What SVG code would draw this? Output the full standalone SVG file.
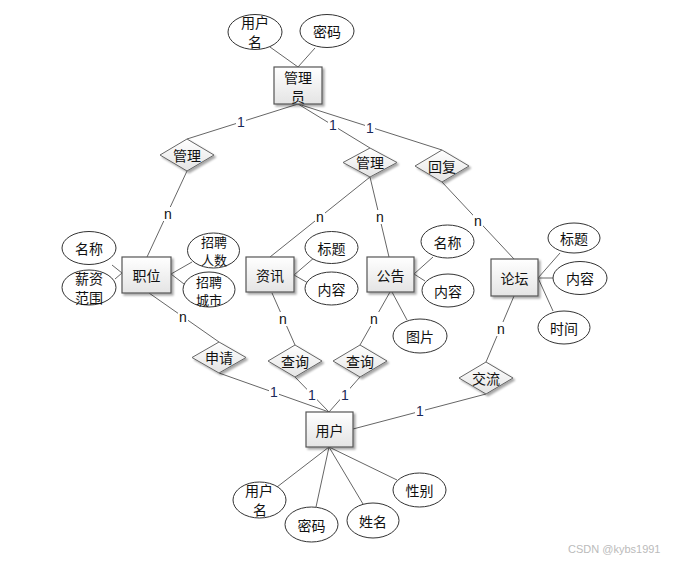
<svg xmlns="http://www.w3.org/2000/svg" width="678" height="563" viewBox="0 0 678 563">
<defs>
<linearGradient id="g" x1="0" y1="0" x2="0" y2="1"><stop offset="0" stop-color="#ffffff"/><stop offset="1" stop-color="#e4e4e4"/></linearGradient>
<filter id="sh" x="-20%" y="-20%" width="150%" height="150%"><feGaussianBlur in="SourceAlpha" stdDeviation="1.2"/><feOffset dx="2" dy="2"/><feComponentTransfer><feFuncA type="linear" slope="0.35"/></feComponentTransfer><feMerge><feMergeNode/><feMergeNode in="SourceGraphic"/></feMerge></filter>
</defs>
<style>
.e{fill:url(#g);stroke:#555;stroke-width:1.2;filter:url(#sh)}
.d{fill:url(#g);stroke:#666;stroke-width:1;filter:url(#sh)}
.a{fill:#fff;stroke:#333;stroke-width:1}
.l{stroke:#666;stroke-width:1;fill:none}
text{font-family:"Noto Sans CJK SC","Microsoft YaHei",sans-serif;font-size:14px;fill:#111;text-anchor:middle;dominant-baseline:central}
.sm{font-size:13px}
.one{font-family:"Liberation Sans",Arial,sans-serif;font-size:14px;fill:#1a2a5a}
.n{font-family:"Liberation Sans",Arial,sans-serif;font-size:14px;fill:#111}
.wm{font-family:"Liberation Sans",Arial,sans-serif;font-size:11px;fill:#bbb;text-anchor:start}
</style>
<rect width="678" height="563" fill="#fff"/>
<g id="connectors">
<line class="l" x1="270" y1="47" x2="298" y2="67"/>
<line class="l" x1="315" y1="48" x2="298" y2="67"/>
<line class="l" x1="298" y1="104" x2="187" y2="139"/>
<line class="l" x1="298" y1="104" x2="370" y2="148"/>
<line class="l" x1="298" y1="104" x2="442" y2="150"/>
<line class="l" x1="187" y1="171" x2="147" y2="257"/>
<line class="l" x1="370" y1="177" x2="270" y2="257"/>
<line class="l" x1="370" y1="177" x2="389" y2="257"/>
<line class="l" x1="442" y1="182" x2="514" y2="259"/>
<line class="l" x1="112" y1="265" x2="122" y2="273"/>
<line class="l" x1="115" y1="279" x2="122" y2="273"/>
<line class="l" x1="192" y1="262" x2="171" y2="274"/>
<line class="l" x1="184" y1="284" x2="171" y2="274"/>
<line class="l" x1="315" y1="257" x2="294" y2="275"/>
<line class="l" x1="308" y1="283" x2="294" y2="275"/>
<line class="l" x1="433" y1="257" x2="414" y2="274"/>
<line class="l" x1="425" y1="281" x2="414" y2="274"/>
<line class="l" x1="560" y1="253" x2="538" y2="278"/>
<line class="l" x1="553" y1="278" x2="538" y2="278"/>
<line class="l" x1="553" y1="311" x2="538" y2="278"/>
<line class="l" x1="149" y1="293" x2="219" y2="342"/>
<line class="l" x1="272" y1="293" x2="295" y2="345"/>
<line class="l" x1="390" y1="292" x2="360" y2="345"/>
<line class="l" x1="392" y1="292" x2="407" y2="320"/>
<line class="l" x1="514" y1="296" x2="486" y2="362"/>
<line class="l" x1="219" y1="373" x2="329" y2="412"/>
<line class="l" x1="295" y1="377" x2="329" y2="412"/>
<line class="l" x1="360" y1="377" x2="329" y2="412"/>
<line class="l" x1="486" y1="394" x2="353" y2="429"/>
<line class="l" x1="329" y1="447" x2="277" y2="487"/>
<line class="l" x1="329" y1="447" x2="316" y2="507"/>
<line class="l" x1="329" y1="447" x2="363" y2="504"/>
<line class="l" x1="329" y1="447" x2="397" y2="480"/>
</g>
<g id="labels">
<rect x="236" y="115" width="10" height="14" fill="#fff"/><text class="one" x="241" y="122">1</text>
<rect x="328" y="118" width="10" height="14" fill="#fff"/><text class="one" x="333" y="125">1</text>
<rect x="365" y="121" width="10" height="14" fill="#fff"/><text class="one" x="370" y="128">1</text>
<rect x="163" y="207" width="10" height="14" fill="#fff"/><text class="n" x="168" y="214">n</text>
<rect x="315" y="210" width="10" height="14" fill="#fff"/><text class="n" x="320" y="217">n</text>
<rect x="375" y="210" width="10" height="14" fill="#fff"/><text class="n" x="380" y="217">n</text>
<rect x="473" y="214" width="10" height="14" fill="#fff"/><text class="n" x="478" y="221">n</text>
<rect x="178" y="310" width="10" height="14" fill="#fff"/><text class="n" x="183" y="317">n</text>
<rect x="278" y="312" width="10" height="14" fill="#fff"/><text class="n" x="283" y="319">n</text>
<rect x="369" y="312" width="10" height="14" fill="#fff"/><text class="n" x="374" y="319">n</text>
<rect x="496" y="322" width="10" height="14" fill="#fff"/><text class="n" x="501" y="329">n</text>
<rect x="269" y="385" width="10" height="14" fill="#fff"/><text class="one" x="274" y="392">1</text>
<rect x="307" y="388" width="10" height="14" fill="#fff"/><text class="one" x="312" y="395">1</text>
<rect x="340" y="388" width="10" height="14" fill="#fff"/><text class="one" x="345" y="395">1</text>
<rect x="415" y="404" width="10" height="14" fill="#fff"/><text class="one" x="420" y="411">1</text>
</g>
<g id="admin"><rect class="e" x="274" y="67" width="48" height="37"/><text x="298" y="77">管理</text><text x="298" y="96">员</text></g>
<g id="admin-username"><ellipse class="a" cx="255" cy="32" rx="27" ry="17.5"/><text x="255" y="22">用户</text><text x="255" y="41">名</text></g>
<g id="admin-password"><ellipse class="a" cx="327" cy="31" rx="27" ry="16.5"/><text x="327" y="31">密码</text></g>
<g id="rel-manage1"><polygon class="d" points="187,139 214,155 187,171 160,155"/><text x="187" y="155">管理</text></g>
<g id="rel-manage2"><polygon class="d" points="370,148 397,162.5 370,177 343,162.5"/><text x="370" y="162">管理</text></g>
<g id="rel-reply"><polygon class="d" points="442,150 469,166 442,182 415,166"/><text x="442" y="166">回复</text></g>
<g id="job"><rect class="e" x="122" y="257" width="49" height="36"/><text x="146.5" y="275">职位</text></g>
<g id="job-name"><ellipse class="a" cx="89" cy="248" rx="27" ry="16.5"/><text x="89" y="248">名称</text></g>
<g id="job-salary"><ellipse class="a" cx="89" cy="287.5" rx="27" ry="17.5"/><text x="89" y="278">薪资</text><text x="89" y="297">范围</text></g>
<g id="job-count"><ellipse class="a" cx="213.5" cy="250.5" rx="26" ry="17.5"/><text class="sm" x="214" y="241">招聘</text><text class="sm" x="214" y="259">人数</text></g>
<g id="job-city"><ellipse class="a" cx="209" cy="289.5" rx="26" ry="17.5"/><text class="sm" x="209" y="281">招聘</text><text class="sm" x="209" y="299">城市</text></g>
<g id="news"><rect class="e" x="246" y="257" width="48" height="35"/><text x="270" y="274.5">资讯</text></g>
<g id="news-title"><ellipse class="a" cx="331.5" cy="247.5" rx="26.5" ry="16"/><text x="331.5" y="247.5">标题</text></g>
<g id="news-content"><ellipse class="a" cx="331.5" cy="288.5" rx="26.5" ry="16.5"/><text x="331.5" y="288.5">内容</text></g>
<g id="notice"><rect class="e" x="367" y="257" width="47" height="35"/><text x="390.5" y="274.5">公告</text></g>
<g id="notice-name"><ellipse class="a" cx="447.5" cy="241.5" rx="26.5" ry="16.5"/><text x="447.5" y="241.5">名称</text></g>
<g id="notice-content"><ellipse class="a" cx="448" cy="290.5" rx="26" ry="16.5"/><text x="448" y="290.5">内容</text></g>
<g id="notice-image"><ellipse class="a" cx="420" cy="336" rx="27" ry="17"/><text x="420" y="336">图片</text></g>
<g id="forum"><rect class="e" x="491" y="259" width="47" height="37"/><text x="514.5" y="277.5">论坛</text></g>
<g id="forum-title"><ellipse class="a" cx="574" cy="238" rx="26" ry="15"/><text x="574" y="238">标题</text></g>
<g id="forum-content"><ellipse class="a" cx="580" cy="278" rx="27" ry="16.5"/><text x="580" y="278">内容</text></g>
<g id="forum-time"><ellipse class="a" cx="564" cy="327.5" rx="26" ry="16.5"/><text x="564" y="327.5">时间</text></g>
<g id="rel-apply"><polygon class="d" points="219,342 246,357.5 219,373 192,357.5"/><text x="219" y="357">申请</text></g>
<g id="rel-query1"><polygon class="d" points="295,345 322,361 295,377 268,361"/><text x="295" y="361">查询</text></g>
<g id="rel-query2"><polygon class="d" points="360,345 387,361 360,377 333,361"/><text x="360" y="361">查询</text></g>
<g id="rel-exchange"><polygon class="d" points="486,362 513,378 486,394 459,378"/><text x="486" y="378">交流</text></g>
<g id="user"><rect class="e" x="306" y="412" width="47" height="35"/><text x="329.5" y="429.5">用户</text></g>
<g id="user-username"><ellipse class="a" cx="259.5" cy="500" rx="26.5" ry="18"/><text x="259" y="490">用户</text><text x="260" y="509">名</text></g>
<g id="user-password"><ellipse class="a" cx="311.5" cy="524.5" rx="26.5" ry="17.5"/><text x="311.5" y="524.5">密码</text></g>
<g id="user-name"><ellipse class="a" cx="373" cy="520.5" rx="26" ry="17.5"/><text x="373" y="520.5">姓名</text></g>
<g id="user-gender"><ellipse class="a" cx="419.5" cy="490" rx="26.5" ry="17"/><text x="419.5" y="490">性别</text></g>
<text class="wm" x="568" y="549">CSDN @kybs1991</text>
</svg>
